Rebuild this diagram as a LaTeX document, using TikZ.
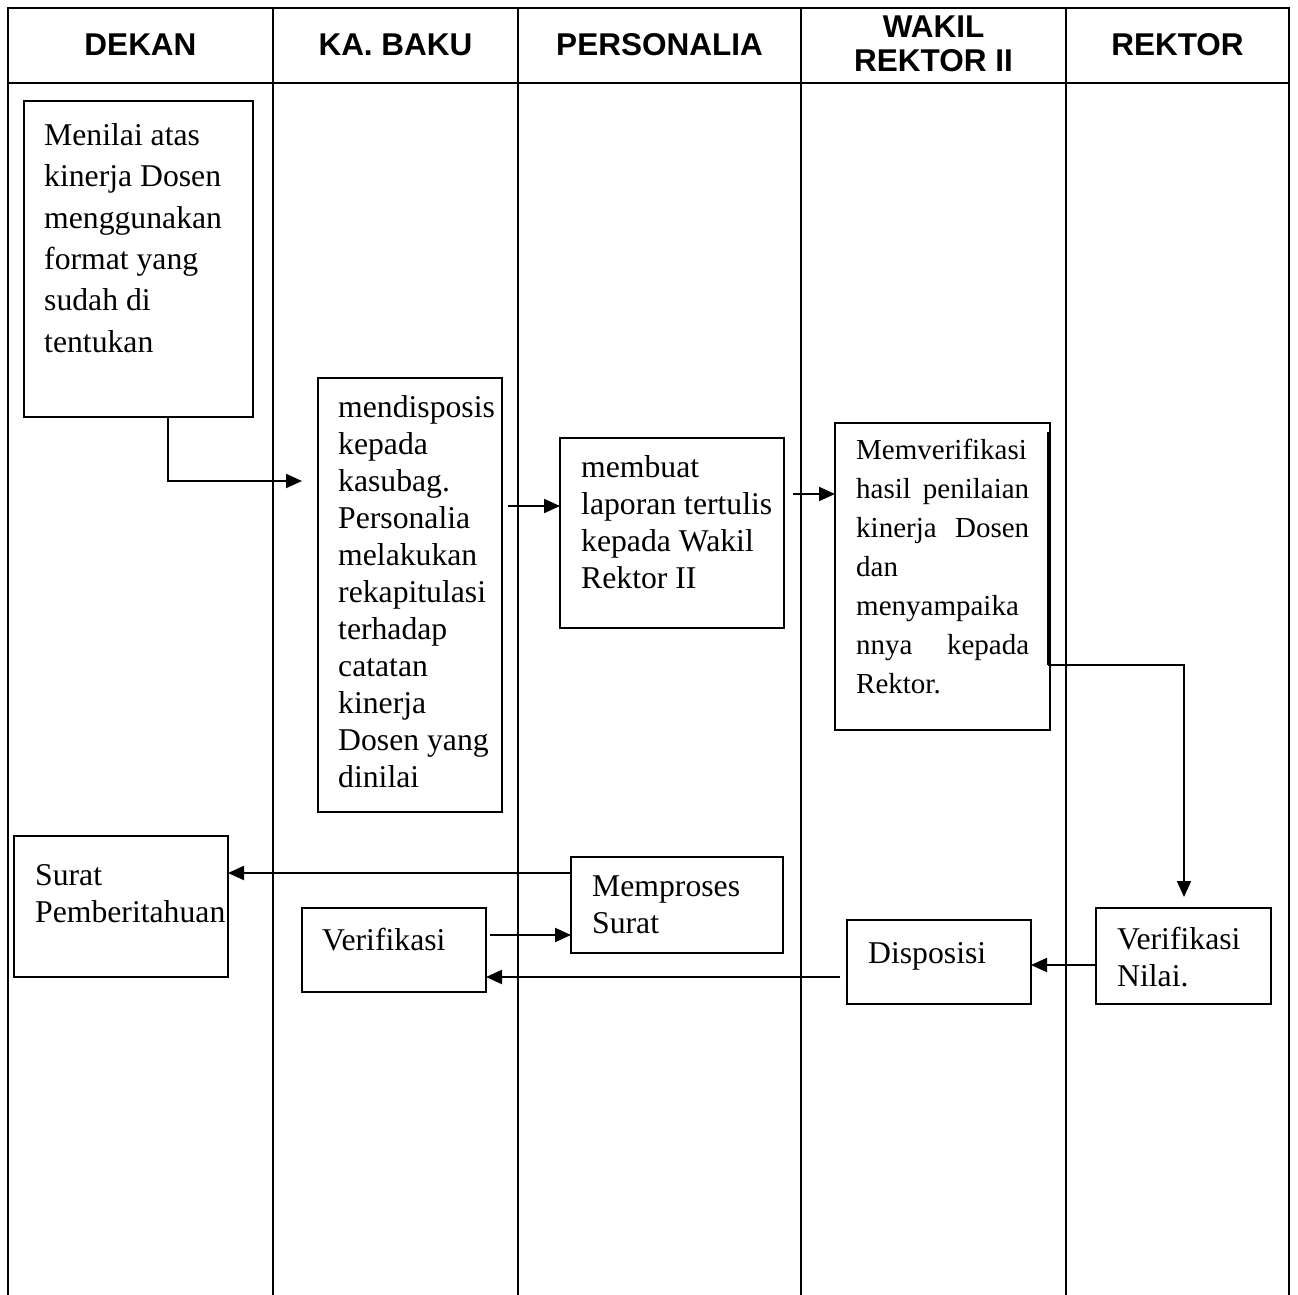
\documentclass[tikz,border=0pt]{standalone}
\usepackage{fontspec}
\setmainfont{Liberation Serif}
\newfontfamily\hdrfont{Liberation Sans}
\usetikzlibrary{arrows.meta,calc}
\tikzset{
  gridline/.style={line width=2pt},
  box/.style={draw, line width=1.5pt, anchor=north west, inner sep=0pt, outer sep=0pt},
  hdr/.style={font=\hdrfont\bfseries\fontsize{31.5}{34}\selectfont, align=center, inner sep=0pt},
  txt/.style={anchor=base west, inner sep=0pt, align=left, font=\fontsize{31.7}{37}\selectfont},
  arr/.style={line width=2pt, -{Triangle[length=16pt,width=14pt]}},
}
\begin{document}
\begin{tikzpicture}[x=1pt,y=-1pt]
\useasboundingbox[fill=white] (0,0) rectangle (1298,1295);
% table
\draw[gridline] (8,1300) -- (8,8) -- (1289,8) -- (1289,1300);
\draw[gridline] (8,83) -- (1289,83);
\foreach \cx in {273,518,801,1066} \draw[gridline] (\cx,8) -- (\cx,1300);
% headers
\node[hdr] (h1) at (140.5,45) {DEKAN};
\node[hdr] (h2) at (395.5,45) {KA. BAKU};
\node[hdr] (h3) at (659.5,45) {PERSONALIA};
\node[hdr] (h4) at (933.5,44) {WAKIL\\REKTOR II};
\node[hdr] (h5) at (1177.5,45) {REKTOR};
% boxes
\node[box, minimum width=229pt, minimum height=316pt] (b1) at (24,101) {};
\node[box, minimum width=184pt, minimum height=434pt] (b2) at (318,378) {};
\node[box, minimum width=224pt, minimum height=190pt] (b3) at (560,438) {};
\node[box, minimum width=215pt, minimum height=307pt] (b4) at (835,423) {};
\node[box, minimum width=214pt, minimum height=141pt] (surat) at (14,836) {};
\node[box, minimum width=212pt, minimum height=96pt] (mem) at (571,857) {};
\node[box, minimum width=184pt, minimum height=84pt] (verif) at (302,908) {};
\node[box, minimum width=184pt, minimum height=84pt] (disp) at (847,920) {};
\node[box, minimum width=175pt, minimum height=96pt] (vnilai) at (1096,908) {};
% texts (anchored at the baseline of their last line)
\node[txt, font=\fontsize{31.7}{41.3}\selectfont] (t1) at (44,352) {Menilai atas\\kinerja Dosen\\menggunakan\\format yang\\sudah di\\tentukan};
\node[txt] (t2) at (338,787) {mendisposis\\kepada\\kasubag.\\Personalia\\melakukan\\rekapitulasi\\terhadap\\catatan\\kinerja\\Dosen yang\\dinilai};
\node[txt] (t3) at (581,588) {membuat\\laporan tertulis\\kepada Wakil\\Rektor II};
\node[txt, font=\fontsize{29}{39}\selectfont] (t4) at (856,693) {Memverifikasi\\\makebox[173pt][s]{hasil penilaian}\\\makebox[173pt][s]{kinerja Dosen}\\dan\\menyampaika\\\makebox[173pt][s]{nnya kepada}\\Rektor.};
\node[txt] (t5) at (35,922) {Surat\\Pemberitahuan};
\node[txt] (t6) at (592,933) {Memproses\\Surat};
\node[txt] (t7) at (322,950) {Verifikasi};
\node[txt] (t8) at (868,963) {Disposisi};
\node[txt] (t9) at (1117,986) {Verifikasi\\Nilai.};
% connectors
\coordinate (a1e) at (302,481);
\draw[arr] ([xshift=49.5pt]b1.south) -- ([xshift=29.5pt]b1.south) |- (a1e);
\coordinate (a2s) at (508,506);
\draw[arr] (a2s) -- (a2s -| b3.west);
\coordinate (a3s) at (793,494);
\draw[arr] (a3s) -- (a3s -| b4.west);
\coordinate (t0) at (1048,432);
\coordinate (tm) at (1048,665);
\coordinate (te) at (1184,897);
\draw[line width=3pt] (t0) -- (tm);
\draw[arr] (tm) -| (te);
\coordinate (a5s) at ([yshift=-9pt]vnilai.west);
\draw[arr] (a5s) -- (a5s -| disp.east);
\coordinate (a6s) at (840,977);
\draw[arr] (a6s) -- (a6s -| verif.east);
\coordinate (a7s) at (490,935);
\draw[arr] (a7s) -- (a7s -| mem.west);
\coordinate (a8s) at ([yshift=32pt]mem.west);
\draw[arr] (a8s) -- (a8s -| surat.east);
\end{tikzpicture}
\end{document}
